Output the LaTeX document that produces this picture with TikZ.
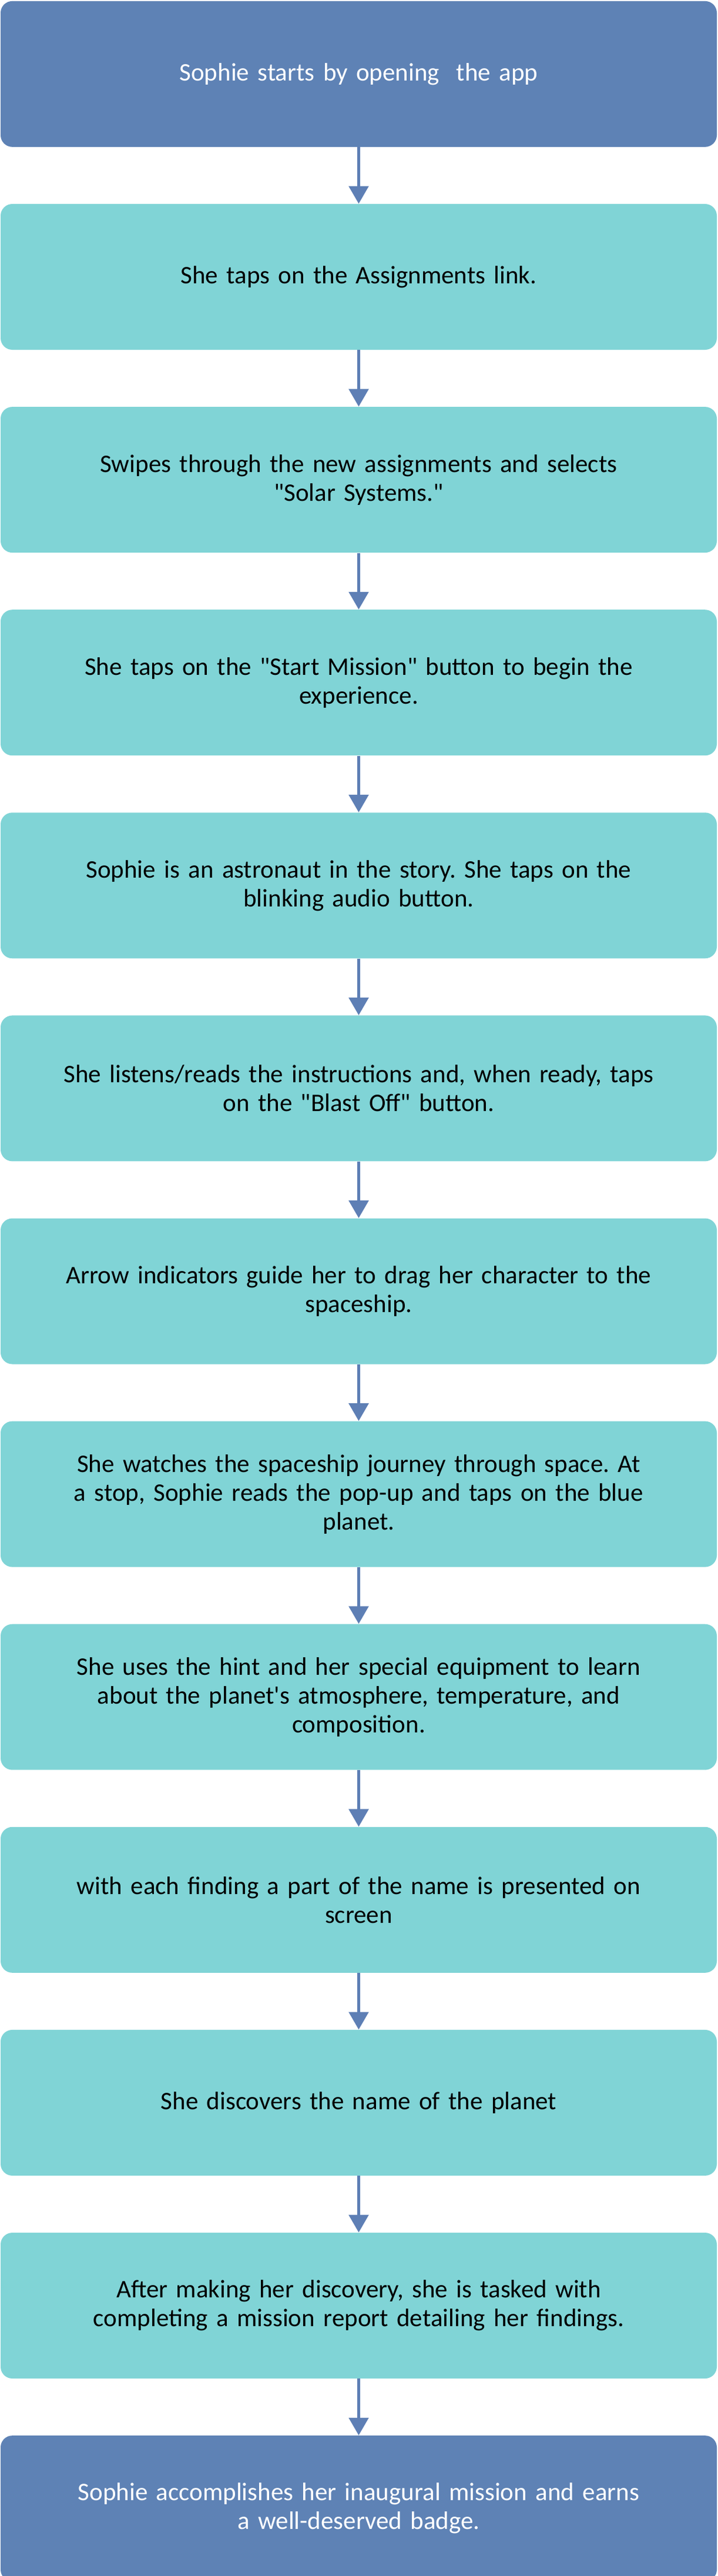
\documentclass[tikz,border=0pt]{standalone}
\usepackage{fontspec}
\setmainfont{Carlito}
\usepackage{tikz}
\usetikzlibrary{arrows.meta, positioning}
\frenchspacing

\definecolor{startblue}{HTML}{5E82B5}
\definecolor{stepteal}{HTML}{80D4D6}
\definecolor{arrowblue}{HTML}{5E7FB5}

\tikzset{
  stepbox/.style={rectangle, rounded corners=10pt, fill=stepteal, text=black,
    minimum width=609.5pt, minimum height=124pt, text width=560pt,
    align=center, inner sep=0pt, font=\fontsize{21.5}{24.5}\selectfont},
  endbox/.style={stepbox, fill=startblue, text=white},
  flow/.style={-{Triangle[width=16.5pt,length=15pt]}, draw=arrowblue, line width=2.8pt}
}
\newcommand{\dq}{\textquotedbl}

\begin{document}
\begin{tikzpicture}[node distance=48.15pt]
        \useasboundingbox (0,0) rectangle (610.5pt,-2191pt);

        % First step: opening the app
        \node[endbox, anchor=north] (open) at (305.25pt,-0.75pt) {Sophie starts by opening\ \ the app};

        % Steps of the mission
        \node[stepbox, below=of open] (assign) {She taps on the Assignments link.};
        \node[stepbox, below=of assign] (select) {Swipes through the new assignments and selects\\\dq Solar Systems.\dq};
        \node[stepbox, below=of select] (mission) {She taps on the \dq Start Mission\dq{} button to begin the\\experience.};
        \node[stepbox, below=of mission] (astro) {Sophie is an astronaut in the story. She taps on the\\blinking audio button.};
        \node[stepbox, below=of astro] (blast) {She listens/reads the instructions and, when ready, taps\\on the \dq Blast Off\dq{} button.};
        \node[stepbox, below=of blast] (drag) {Arrow indicators guide her to drag her character to the\\spaceship.};
        \node[stepbox, below=of drag] (journey) {She watches the spaceship journey through space. At\\a stop, Sophie reads the pop-up and taps on the blue\\planet.};
        \node[stepbox, below=of journey] (hint) {She uses the hint and her special equipment to learn\\about the planet\textquotesingle s atmosphere, temperature, and\\composition.};
        \node[stepbox, below=of hint] (finding) {with each finding a part of the name is presented on\\screen};
        \node[stepbox, below=of finding] (discover) {She discovers the name of the planet};
        \node[stepbox, below=of discover] (report) {After making her discovery, she is tasked with\\completing a mission report detailing her findings.};

        % Last step: the badge
        \node[endbox, below=of report] (badge) {Sophie accomplishes her inaugural mission and earns\\a well-deserved badge.};

        % Arrows between the steps
        \foreach \a/\b in {open/assign, assign/select, select/mission, mission/astro,
                astro/blast, blast/drag, drag/journey, journey/hint, hint/finding,
                finding/discover, discover/report, report/badge} {
                \draw[flow] (\a) -- (\b);
            }
    \end{tikzpicture}
\end{document}
